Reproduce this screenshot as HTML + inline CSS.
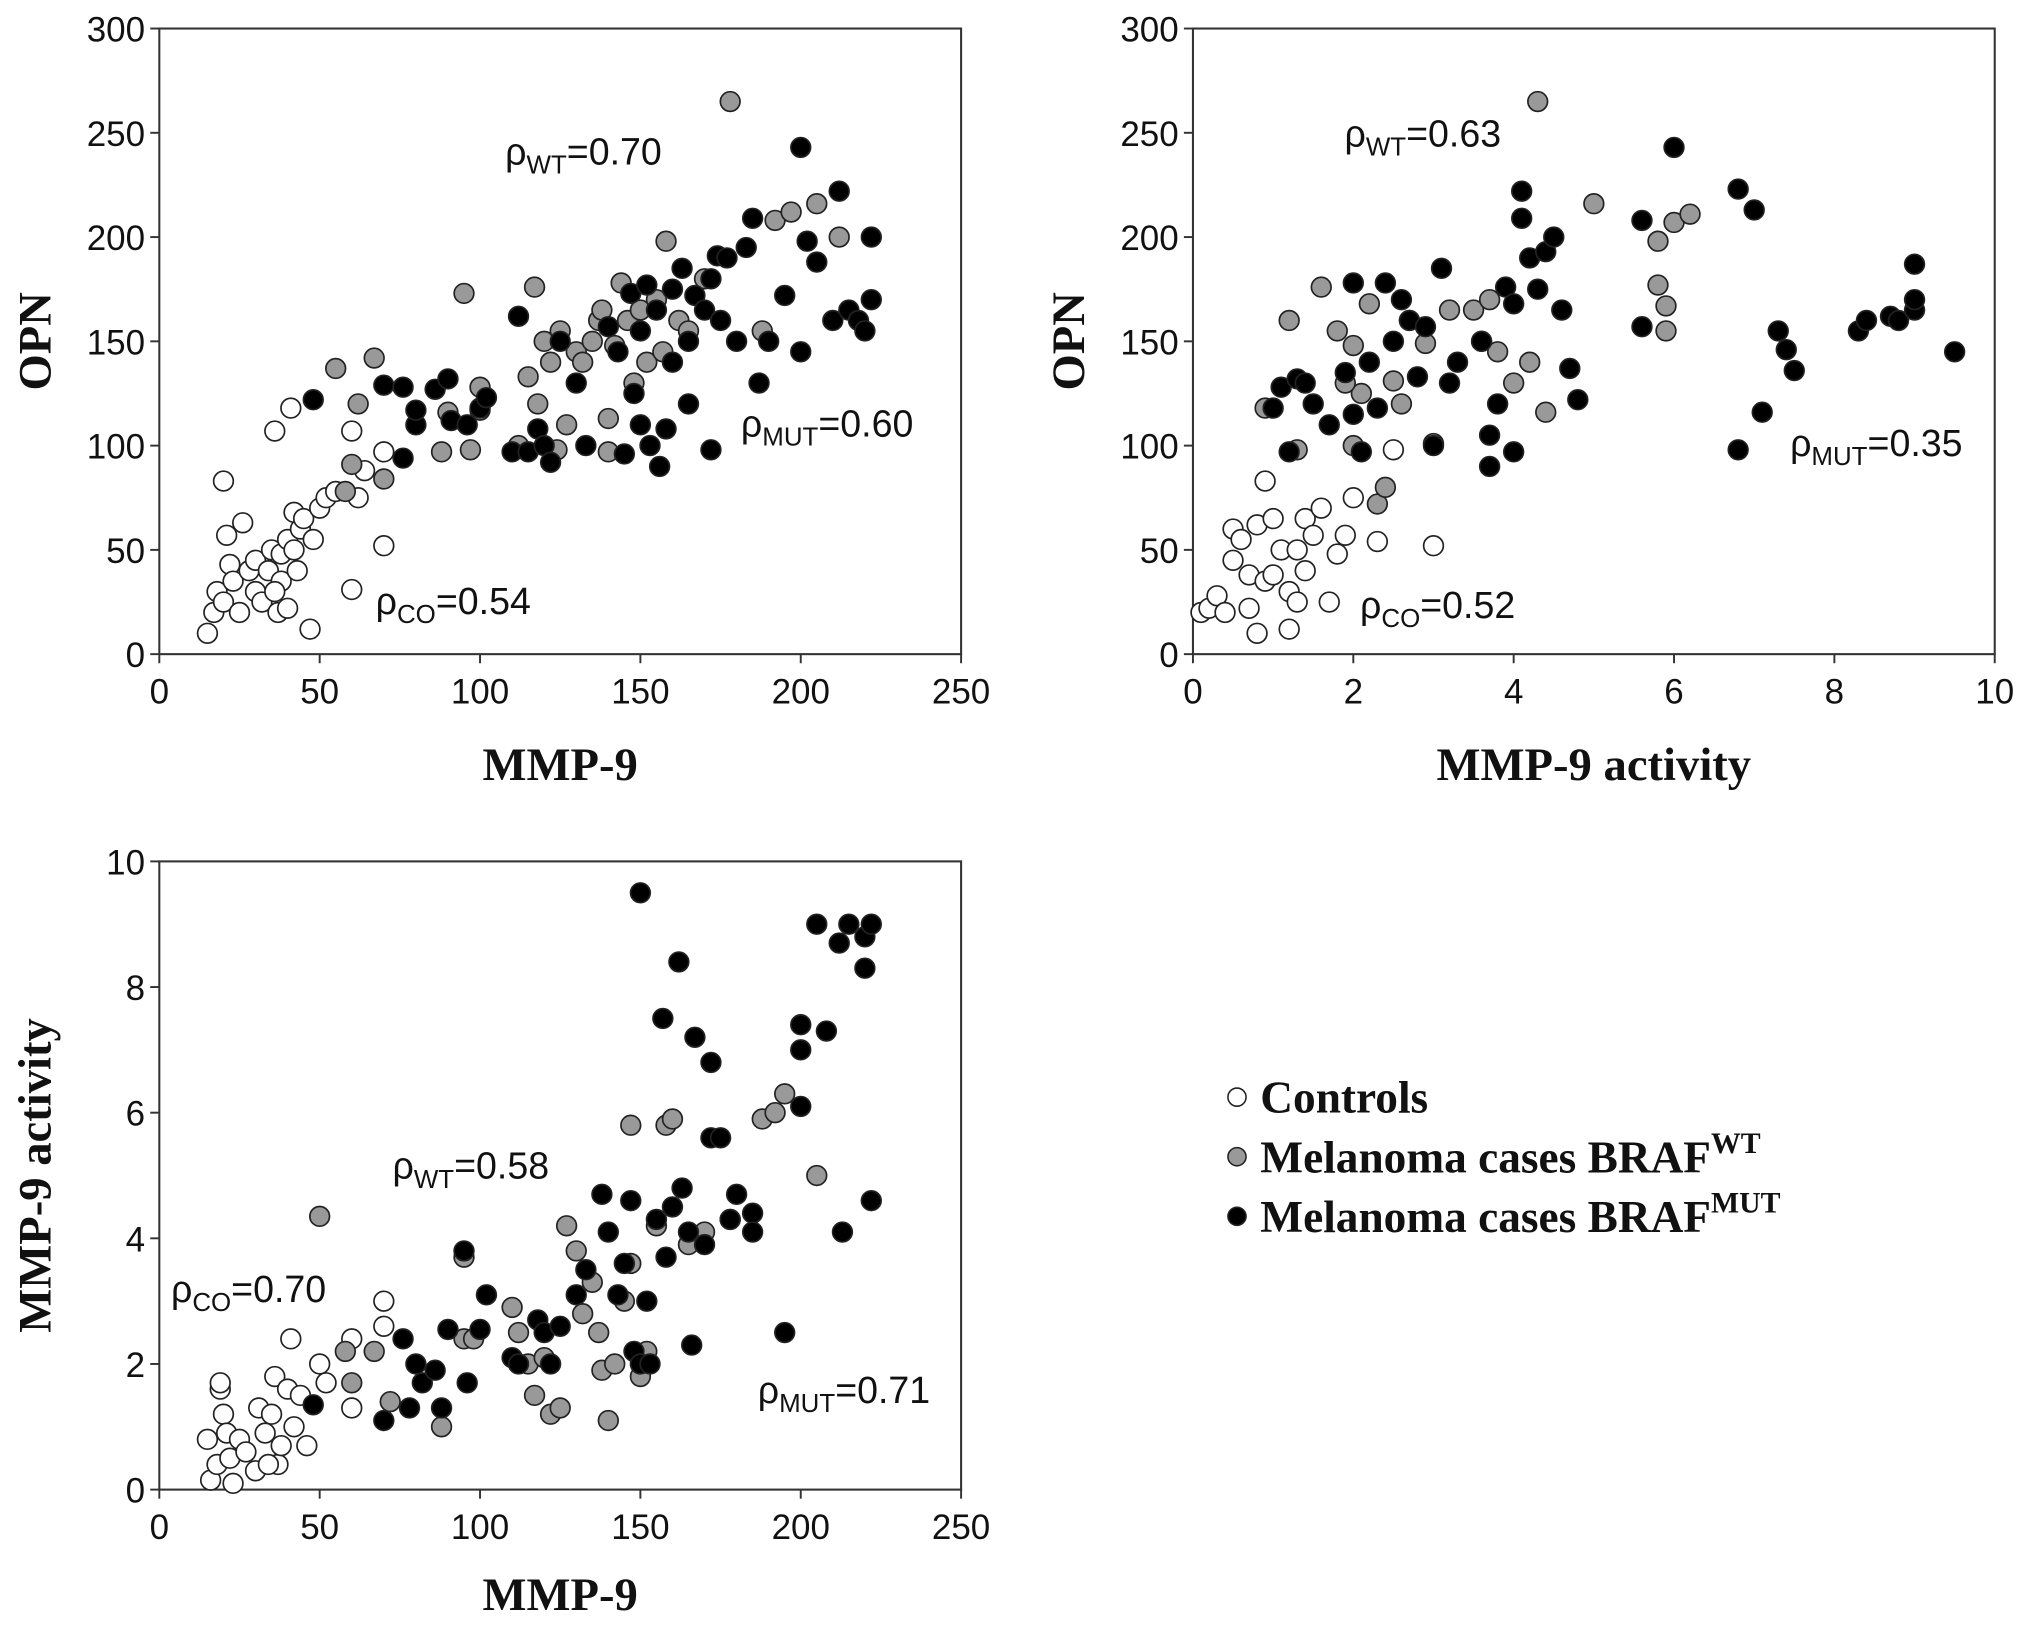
<!DOCTYPE html>
<html><head><meta charset="utf-8"><style>
html,body{margin:0;padding:0;background:#fff;}
svg{display:block;}
text{font-family:"Liberation Sans",sans-serif;fill:#111;}
.ser{font-family:"Liberation Serif",serif;font-weight:bold;}
</style></head><body>
<svg id="chart" width="2031" height="1625" viewBox="0 0 1568 1254.5" xmlns="http://www.w3.org/2000/svg"></svg>
<script>
const p1Controls=[[15,10],[17,20],[18,30],[20,25],[21,57],[20,83],[22,43],[23,35],[25,20],[26,63],[28,40],[30,45],[30,30],[32,25],[34,40],[35,50],[36,107],[37,20],[38,48],[38,35],[40,22],[40,55],[41,118],[42,68],[43,40],[44,60],[45,65],[47,12],[48,55],[50,70],[52,75],[55,78],[60,31],[60,107],[62,75],[64,88],[70,97],[70,52],[42,50],[36,30]];
const p1WT=[[55,137],[58,78],[60,91],[62,120],[67,142],[70,84],[88,97],[90,116],[95,173],[97,98],[100,128],[100,117],[112,100],[115,133],[117,176],[118,120],[120,150],[122,140],[124,98],[125,155],[127,110],[130,145],[132,140],[135,150],[137,160],[138,165],[140,113],[140,97],[142,148],[144,178],[146,160],[148,130],[150,165],[152,140],[155,170],[157,145],[158,198],[162,160],[165,155],[170,180],[178,265],[188,155],[192,208],[197,212],[205,216],[212,200]];
const p1MUT=[[48,122],[70,129],[76,128],[76,94],[80,110],[80,117],[86,127],[90,132],[91,112],[96,110],[100,118],[102,123],[110,97],[112,162],[115,97],[118,108],[120,100],[122,92],[125,150],[130,130],[133,100],[140,157],[143,145],[145,96],[147,173],[148,125],[150,110],[150,155],[152,177],[153,100],[155,165],[156,90],[158,108],[160,175],[160,140],[163,185],[165,150],[165,120],[167,172],[170,165],[172,98],[172,180],[174,191],[175,160],[177,190],[180,150],[183,195],[185,209],[187,130],[190,150],[195,172],[200,145],[200,243],[202,198],[205,188],[210,160],[212,222],[215,165],[218,160],[220,155],[222,200],[222,170]];
const p2Controls=[[0.1,20],[0.2,22],[0.3,28],[0.4,20],[0.5,45],[0.5,60],[0.6,55],[0.7,38],[0.7,22],[0.8,62],[0.8,10],[0.9,35],[1,65],[1,38],[1.1,50],[1.2,30],[1.2,12],[1.3,50],[1.3,25],[1.4,40],[1.4,65],[1.5,57],[1.6,70],[1.7,25],[1.8,48],[1.9,57],[2,75],[2.3,54],[2.5,98],[3,52],[0.9,83]];
const p2WT=[[0.9,118],[1.2,160],[1.3,98],[1.6,176],[1.8,155],[2,148],[2,100],[2.1,125],[2.2,168],[2.3,72],[2.4,80],[2.5,131],[2.6,120],[2.7,160],[2.9,149],[3,101],[3.2,165],[3.5,165],[3.6,150],[3.8,145],[4,130],[4.2,140],[4.4,116],[5,216],[5.8,198],[5.8,177],[5.9,167],[5.9,155],[6,207],[6.2,211],[4.3,265],[3.7,170],[1.9,130]];
const p2MUT=[[1,118],[1.1,128],[1.2,97],[1.3,132],[1.4,130],[1.5,120],[1.7,110],[1.9,135],[2,178],[2,115],[2.1,97],[2.2,140],[2.3,118],[2.4,178],[2.5,150],[2.6,170],[2.7,160],[2.8,133],[2.9,157],[3,100],[3.1,185],[3.2,130],[3.3,140],[3.6,150],[3.7,90],[3.7,105],[3.8,120],[3.9,176],[4,97],[4,168],[4.1,222],[4.1,209],[4.2,190],[4.3,175],[4.4,193],[4.5,200],[4.6,165],[4.7,137],[4.8,122],[5.6,208],[5.6,157],[6,243],[6.8,98],[6.8,223],[7,213],[7.1,116],[7.3,155],[7.4,146],[7.5,136],[8.3,155],[8.4,160],[8.7,162],[8.8,160],[9,165],[9,170],[9,187],[9.5,145]];
const p3Controls=[[15,0.8],[16,0.15],[18,0.4],[19,1.6],[20,1.2],[21,0.9],[22,0.5],[23,0.1],[25,0.8],[27,0.6],[30,0.3],[31,1.3],[33,0.9],[35,1.2],[36,1.8],[37,0.4],[38,0.7],[40,1.6],[41,2.4],[42,1.0],[44,1.5],[46,0.7],[50,2.0],[52,1.7],[60,1.3],[60,2.4],[70,3.0],[70,2.6],[19,1.7],[34,0.4]];
const p3WT=[[50,4.35],[58,2.2],[60,1.7],[67,2.2],[72,1.4],[88,1.0],[95,2.4],[95,3.7],[98,2.4],[110,2.9],[112,2.5],[115,2.0],[117,1.5],[120,2.1],[122,1.2],[125,1.3],[127,4.2],[130,3.8],[132,2.8],[135,3.3],[137,2.5],[138,1.9],[140,1.1],[142,2.0],[145,3.0],[147,5.8],[147,3.6],[150,1.8],[152,2.2],[155,4.2],[158,5.8],[160,5.9],[165,3.9],[170,4.1],[178,4.3],[188,5.9],[192,6.0],[195,6.3],[205,5.0]];
const p3MUT=[[48,1.35],[70,1.1],[76,2.4],[78,1.3],[80,2.0],[82,1.7],[86,1.9],[88,1.3],[90,2.55],[95,3.8],[96,1.7],[100,2.55],[102,3.1],[110,2.1],[112,2.0],[118,2.7],[120,2.5],[122,2.0],[125,2.6],[130,3.1],[133,3.5],[138,4.7],[140,4.1],[143,3.1],[145,3.6],[147,4.6],[148,2.2],[150,2.0],[150,9.5],[152,3.0],[153,2.0],[155,4.3],[157,7.5],[158,3.7],[160,4.5],[162,8.4],[163,4.8],[165,4.1],[166,2.3],[167,7.2],[170,3.9],[172,6.8],[172,5.6],[175,5.6],[178,4.3],[180,4.7],[185,4.4],[185,4.1],[195,2.5],[200,7.4],[200,6.1],[200,7.0],[205,9.0],[208,7.3],[212,8.7],[213,4.1],[215,9.0],[220,8.8],[220,8.3],[222,9.0],[222,4.6]];
const ticksMMP=[0,50,100,150,200,250];
const ticksOPN=[0,50,100,150,200,250,300];
const ticksAct=[0,2,4,6,8,10];

const NS="http://www.w3.org/2000/svg";
const svg=document.getElementById('chart');
function mk(tag,attrs,parent,txt){const e=document.createElementNS(NS,tag);for(const k in attrs)e.setAttribute(k,attrs[k]);if(txt!==undefined)e.textContent=txt;(parent||svg).appendChild(e);return e;}

function panel(name,x0,x1,y0,y1,xmax,ymax,xt,yt,xtitle,ytitle,xtitleY,series){
  const g=mk('g',{});
  
  
  const sx=v=>x0+(x1-x0)*v/xmax, sy=v=>y0-(y0-y1)*v/ymax;
  const fr=mk('rect',{x:x0,y:y1,width:x1-x0,height:y0-y1,fill:'none',stroke:'#333','stroke-width':1.6},g);
  
  xt.forEach(v=>{mk('line',{x1:sx(v),y1:y0,x2:sx(v),y2:y0+7,stroke:'#333','stroke-width':1.5},g);
    const t=mk('text',{x:sx(v),y:y0+38,'text-anchor':'middle','font-size':27},g,v);
    });
  yt.forEach(v=>{mk('line',{x1:x0-7,y1:sy(v),x2:x0,y2:sy(v),stroke:'#333','stroke-width':1.5},g);
    const t=mk('text',{x:x0-11,y:sy(v)+10,'text-anchor':'end','font-size':27},g,v);
    });
  const xtl=mk('text',{x:(x0+x1)/2,y:xtitleY,'text-anchor':'middle','font-size':36,class:'ser'},g,xtitle);
  
  const yc=(y0+y1)/2;
  const ytl=mk('text',{x:0,y:0,'text-anchor':'middle','font-size':36,class:'ser',transform:`translate(${x0-84},${yc}) rotate(-90)`},g,ytitle);
  
  series.forEach(([arr,fill])=>arr.forEach(p=>{
    const c=mk('circle',{cx:sx(p[0]),cy:sy(p[1]),r:7.6,fill:fill,stroke:'#222','stroke-width':1.3},g);
    }));
  return g;
}
function rho(x,y,sub,val){
  const t=mk('text',{x:x,y:y,'font-size':29});
  
  
  mk('tspan',{},t,'ρ');mk('tspan',{'font-size':20,dy:7},t,sub);mk('tspan',{dy:-7},t,'='+val);
}
panel('panel-opn-vs-mmp9',123,742,505,22,250,300,ticksMMP,ticksOPN,'MMP-9','OPN',602,[[p1Controls,'#fff'],[p1WT,'#999'],[p1MUT,'#000']]);
panel('panel-opn-vs-activity',921,1540,505,22,10,300,ticksAct,ticksOPN,'MMP-9 activity','OPN',602,[[p2Controls,'#fff'],[p2WT,'#999'],[p2MUT,'#000']]);
panel('panel-activity-vs-mmp9',123,742,1150,665,250,10,ticksMMP,ticksAct,'MMP-9','MMP-9 activity',1243,[[p3Controls,'#fff'],[p3WT,'#999'],[p3MUT,'#000']]);
rho(390,127,'WT','0.70');rho(572,337,'MUT','0.60');rho(290,474,'CO','0.54');
rho(1038,113,'WT','0.63');rho(1382,352,'MUT','0.35');rho(1050,477,'CO','0.52');
rho(303,910,'WT','0.58');rho(132,1005,'CO','0.70');rho(585,1083,'MUT','0.71');
const lg=mk('g',{});
[['Controls','#fff',''],['Melanoma cases BRAF','#999','WT'],['Melanoma cases BRAF','#000','MUT']].forEach((e,i)=>{
  const y=848+i*46;
  const c=mk('circle',{cx:955,cy:y-1,r:7,fill:e[1],stroke:'#222','stroke-width':1.2},lg);
  
  const t=mk('text',{x:973,y:y+11,'font-size':35,class:'ser'},lg);
  
  mk('tspan',{},t,e[0]);if(e[2])mk('tspan',{'font-size':23,dy:-15},t,e[2]);
});
</script>
</body></html>
